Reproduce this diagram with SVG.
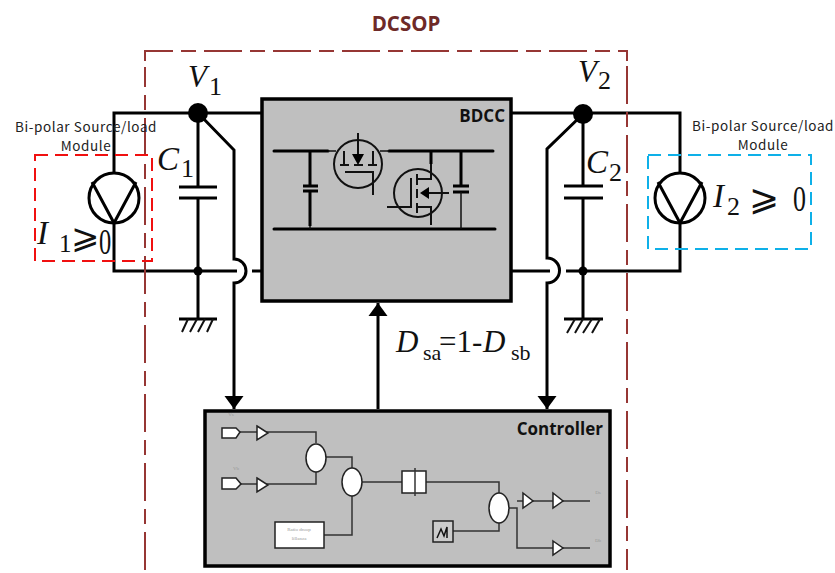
<svg xmlns="http://www.w3.org/2000/svg" width="835" height="573" viewBox="0 0 835 573">
<defs>
<marker id="ah" markerUnits="userSpaceOnUse" markerWidth="14" markerHeight="20" refX="13" refY="10" orient="auto"><path d="M0 0.5L13 10L0 19.5Z" fill="#000"/></marker>
</defs>
<style>
.w{fill:none;stroke:#000;stroke-width:3}
.t{fill:none;stroke:#111;stroke-width:2}
.i{fill:none;stroke:#111;stroke-width:1.5}
.g{fill:none;stroke:#333;stroke-width:1.5}
.b{fill:#fff;stroke:#222;stroke-width:1.5}
.m{font-family:"Liberation Serif",serif;fill:#111}
.it{font-style:italic}
.lb{font-family:"Open Sans","Liberation Sans",sans-serif;font-weight:700;fill:#111;font-size:17px}
.sm{font-family:"Noto Sans CJK JP","Noto Sans",sans-serif;font-size:13.5px;letter-spacing:.6px;fill:#222;text-anchor:middle}
.tiny{font-family:"Liberation Serif",serif;font-size:5px;fill:#999;text-anchor:middle}
</style>
<g id="connectors">
<path class="w" d="M261 113H114V271H237M252 271H261M512 113H680V271H566M550 271H512"/>
<path class="w" d="M198 113V187M198 198V319M179 319H217M583 113V186M583 198V319M564 319H603"/>
<path class="w" d="M179 187H217M179 198H217M564 186H603M564 198H603"/>
<path class="t" d="M188 319L182 332M197 319L190 332M205 319L198 332M213 319L207 332M575 319L567 333M583 319L575 333M592 319L583 333M600 319L592 333" stroke-width="2.5"/>
<path class="w" d="M198 113L234 150V259A12 12 0 0 1 234 283V409" marker-end="url(#ah)"/>
<path class="w" d="M583 114L547 149V258A12.500 12.500 0 0 1 547 283V409" marker-end="url(#ah)"/>
<path class="w" d="M378 409V303" marker-end="url(#ah)"/>
<circle cx="198" cy="113" r="10" fill="#000"/>
<circle cx="583" cy="114" r="10" fill="#000"/>
<circle cx="198" cy="271" r="4.500" fill="#000"/>
<circle cx="583" cy="271" r="4.500" fill="#000"/>
</g>
<g id="dcsop">
<path d="M145 570V67M145 61V51H627V61M627 66V570" fill="none" stroke="#963634" stroke-width="2" stroke-dasharray="38 8 15 8"/>
<text x="406" y="31" font-family="'Open Sans','Liberation Sans',sans-serif" font-weight="700" font-size="20.500" fill="#6e2a28" text-anchor="middle">DCSOP</text>
</g>
<g id="source-left">
<rect x="35" y="155" width="117" height="106" fill="none" stroke="#f01010" stroke-width="2" stroke-dasharray="13 7"/>
<circle cx="114" cy="198" r="25" fill="#fff" stroke="#000" stroke-width="3"/>
<path class="w" d="M92 182L114 223L136 182"/>
<text class="sm" x="86" y="132">Bi-polar Source/load</text>
<text class="sm" x="86" y="151">Module</text>
<text class="m" font-size="33" y="244"><tspan class="it" x="37">I</tspan><tspan x="59" y="252" font-size="25">1</tspan><tspan x="71" y="248" font-size="34">⩾</tspan></text>
<text class="m" font-size="36" transform="translate(99 254) scale(.68 1)">0</text>
</g>
<g id="source-right">
<rect x="648" y="155" width="163" height="94" fill="none" stroke="#0eb0e8" stroke-width="2" stroke-dasharray="13 7"/>
<circle cx="680" cy="198" r="25" fill="#fff" stroke="#000" stroke-width="3"/>
<path class="w" d="M658 182L680 223L702 182"/>
<text class="sm" x="763" y="131">Bi-polar Source/load</text>
<text class="sm" x="763" y="150">Module</text>
<text class="m" font-size="33" y="207"><tspan class="it" x="713">I</tspan><tspan x="727" y="215" font-size="26">2</tspan><tspan x="749" y="210" font-size="36">⩾</tspan></text>
<text class="m" font-size="36" transform="translate(793 211) scale(.72 1)">0</text>
</g>
<g id="labels">
<text class="m it" x="188" y="87" font-size="31">V</text>
<text class="m" x="209" y="95" font-size="26">1</text>
<text class="m it" x="157" y="170" font-size="33">C</text>
<text class="m" x="181" y="177" font-size="26">1</text>
<text class="m it" x="578" y="82" font-size="31">V</text>
<text class="m" x="598" y="89" font-size="26">2</text>
<text class="m it" x="586" y="173" font-size="33">C</text>
<text class="m" x="609" y="181" font-size="26">2</text>
<text class="m" y="352" font-size="31"><tspan class="it" x="396">D</tspan><tspan x="423" y="360" font-size="22">sa</tspan><tspan x="439" y="352">=1-</tspan><tspan class="it" x="483">D</tspan><tspan x="511" y="360" font-size="22">sb</tspan></text>
</g>
<g id="bdcc">
<rect x="262" y="99" width="249" height="202" fill="#bfbfbf" stroke="#000" stroke-width="3.500"/>
<text class="lb" x="505" y="122" text-anchor="end">BDCC</text>
<path class="w" d="M274 151H328M389 151H493M274 229H495" stroke-linecap="round"/>
<path class="i" d="M328 151H336M380 151H389"/>
<path class="w" d="M310 151V186M310 191V226M431 151V164M461 151V186M303 186H318M303 191H318M453 186H469M453 192H469"/>
<path class="i" d="M461 192V229M310 226V229"/>
<circle cx="358" cy="164" r="24" class="t"/>
<circle cx="418" cy="193" r="24" class="t"/>
<path class="t" d="M358 133V156M344 151V165M373 151V165M340 165H349M354 165H363M368 165H377M345 172H373V195"/>
<path d="M352 154H364L358 165Z" fill="#000"/>
<path class="t" d="M387 207H411V178M417 174V185M417 189V198M417 203V213M417 179H431V164M417 207H431V225M422 193H449"/>
<path d="M420 193L429 187V199Z" fill="#000"/>
</g>
<g id="controller">
<rect x="205" y="411" width="405" height="155" fill="#bfbfbf" stroke="#000" stroke-width="3.500"/>
<text class="lb" x="603" y="435" text-anchor="end">Controller</text>
<path class="g" d="M240 432H316V443M241 484H316V472M326 457H352V468M362 482H402M352 496V535H324M426 482H499V493M453 531H499V523M509 508H517V548H553M517 501H523M533 501H553M563 501H590M563 548H590"/>
<path class="b" d="M222 428H236L240 432L236 438H222Z"/>
<path class="b" d="M222 478H236L241 484L236 489H222Z"/>
<path class="b" d="M257 426L268 433L257 440Z"/>
<path class="b" d="M257 478L268 485L257 492Z"/>
<ellipse class="b" cx="316" cy="458" rx="10" ry="14"/>
<ellipse class="b" cx="352" cy="482" rx="10" ry="14"/>
<rect class="b" x="275" y="522" width="49" height="26"/>
<text class="tiny" x="299" y="531">Ratio droop</text>
<text class="tiny" x="299" y="540">lillanza</text>
<rect class="b" x="402" y="471" width="24" height="22"/>
<path class="g" d="M415 468V496"/>
<ellipse class="b" cx="499" cy="508" rx="10" ry="15"/>
<rect x="433" y="521" width="20" height="21" fill="#ccc" stroke="#222" stroke-width="1.500"/>
<path class="i" d="M437 538L441 529L444 536L447 527V538"/>
<path class="b" d="M523 493L533 501L523 508Z"/>
<path class="b" d="M553 493L563 501L553 508Z"/>
<path class="b" d="M553 541L563 548L553 555Z"/>
<text class="tiny" x="231" y="416">Vs</text>
<text class="tiny" x="236" y="470">Vb</text>
<text class="tiny" x="598" y="494">Ds</text>
<text class="tiny" x="598" y="542">Db</text>
</g>
</svg>
